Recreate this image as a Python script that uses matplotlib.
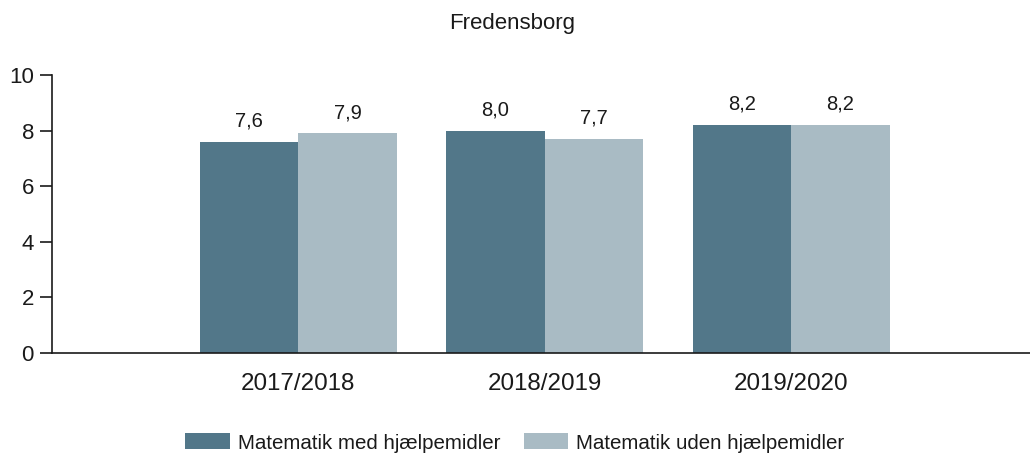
import matplotlib
matplotlib.use("Agg")
import matplotlib.pyplot as plt
import numpy as np

categories = ["2017/2018", "2018/2019", "2019/2020"]
med = [7.6, 8.0, 8.2]
uden = [7.9, 7.7, 8.2]
series_names = ["Matematik med hjælpemidler", "Matematik uden hjælpemidler"]
yticks = [0, 2, 4, 6, 8, 10]

plt.rcParams['font.family'] = ['Liberation Sans', 'DejaVu Sans']
txt = "#1a1a1a"

fig = plt.figure(figsize=(10.3, 4.55), dpi=100)
ax = fig.add_axes([52/1030, 102/455, 1 - 52/1030, 278/455])

x = np.arange(len(categories))
w = 0.4
c1, c2 = "#527789", "#a9bbc4"
b1 = ax.bar(x - w/2, med, w, color=c1, label=series_names[0])
b2 = ax.bar(x + w/2, uden, w, color=c2, label=series_names[1])
for bars, vals in ((b1, med), (b2, uden)):
    for r, v in zip(bars, vals):
        ax.text(r.get_x() + r.get_width()/2, v + 0.55, f"{v:.1f}".replace(".", ","),
                ha="center", va="baseline", fontsize=14.5, color=txt)

ax.set_xlim(-1.0, 2.97)
ax.set_ylim(0, 10)
ax.set_yticks(yticks)
ax.set_xticks(x)
ax.set_xticklabels(categories)
ax.tick_params(axis="y", length=9, width=1.2, labelsize=16, colors=txt, pad=4)
ax.tick_params(axis="x", length=0, labelsize=17.4, colors=txt, pad=14.5)
for s in ("top", "right"):
    ax.spines[s].set_visible(False)
for s in ("left", "bottom"):
    ax.spines[s].set_linewidth(1.2)
    ax.spines[s].set_color("#1a1a1a")

fig.text(0.497, 1 - 24/455, "Fredensborg", ha="center", va="center", fontsize=16, color=txt)
fig.legend(handles=[b1, b2], loc="center", bbox_to_anchor=(0.5, 1 - 443/455), ncol=2,
           frameon=False, fontsize=14.8, handlelength=2.15, handleheight=0.8,
           columnspacing=1.15, handletextpad=0.4, labelcolor=txt)

fig.savefig("out.png", dpi=100)
